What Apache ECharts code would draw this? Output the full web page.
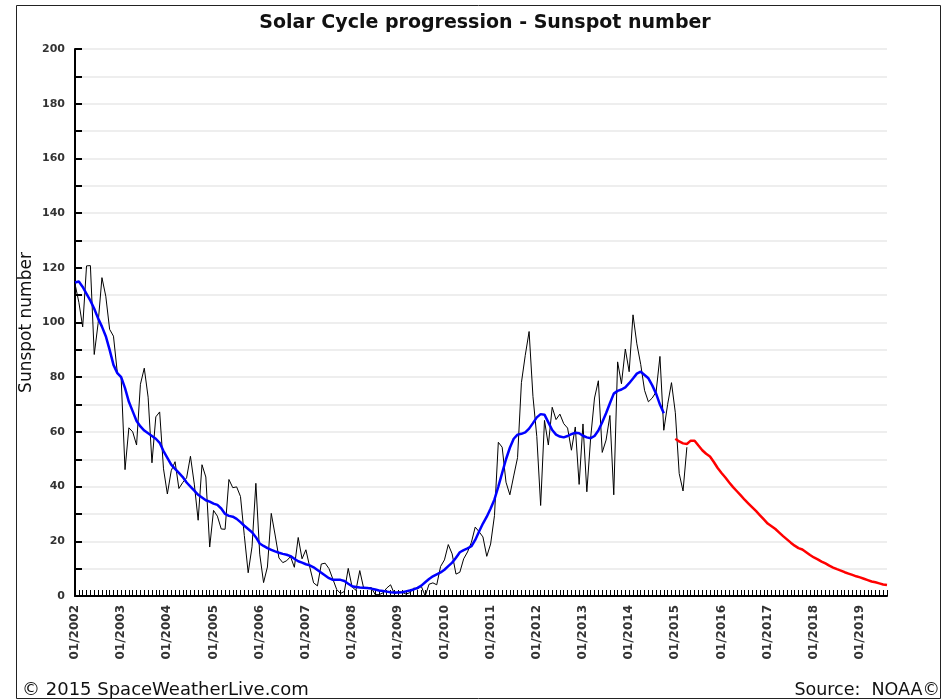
<!DOCTYPE html>
<html>
<head>
<meta charset="utf-8">
<script src="https://cdn.jsdelivr.net/npm/echarts@6/dist/echarts.min.js"></script>
<style>
  html, body { margin: 0; padding: 0; background: #fff; }
  #box { width: 943px; height: 700px; }
</style>
</head>
<body>
<div id="box"></div>
<script>
// months shown on the axis: 01/2002 .. 08/2019
const startYear = 2002;
const monthCount = 212;

// monthly sunspot number, 01/2002 .. 04/2015
const monthlySSN = [
    114.1, 107.4, 98.4, 120.7, 120.8, 88.3, 99.6, 116.4, 109.6, 97.5, 95.0, 81.6,
    79.5, 46.2, 61.5, 60.0, 55.2, 77.4, 83.3, 72.7, 48.7, 65.5, 67.3, 46.5,
    37.3, 45.8, 49.1, 39.3, 41.5, 43.2, 51.1, 40.9, 27.7, 48.0, 43.5, 17.9,
    31.3, 29.2, 24.5, 24.4, 42.6, 39.6, 39.9, 36.4, 22.1, 8.5, 18.0, 41.2,
    15.3, 4.9, 10.6, 30.2, 22.3, 13.9, 12.2, 12.9, 14.4, 10.5, 21.4, 13.6,
    16.9, 10.6, 4.8, 3.7, 11.7, 12.0, 10.0, 6.2, 2.4, 0.9, 1.7, 10.1,
    3.3, 2.1, 9.3, 2.9, 2.9, 3.1, 0.5, 0.5, 1.1, 2.9, 4.1, 0.8,
    1.5, 1.4, 0.7, 1.2, 2.9, 2.6, 3.5, 0.0, 4.3, 4.8, 4.1, 10.8,
    13.2, 18.8, 15.4, 8.0, 8.7, 13.6, 16.1, 19.6, 25.2, 23.5, 21.6, 14.5,
    19.0, 29.4, 56.2, 54.4, 41.6, 37.0, 43.9, 50.6, 78.0, 88.0, 96.7, 73.0,
    58.3, 33.1, 64.2, 55.2, 69.0, 64.5, 66.5, 63.0, 61.4, 53.3, 61.8, 40.8,
    62.9, 38.1, 57.9, 72.4, 78.7, 52.5, 57.0, 66.0, 37.0, 85.6, 77.6, 90.3,
    82.0, 102.8, 92.2, 84.7, 75.2, 71.0, 72.4, 74.6, 87.6, 60.6, 70.1, 78.0,
    67.0, 44.8, 38.4, 54.4
];

// smoothed sunspot number, 01/2002 .. 10/2014
const smoothedSSN = [
    114.6, 115.0, 113.0, 110.5, 108.0, 105.0, 101.5, 98.5, 95.0, 90.0, 84.5, 81.5,
    80.0, 76.0, 71.0, 67.5, 64.0, 62.0, 60.5, 59.5, 58.5, 57.5, 56.0, 53.0,
    50.5, 48.0, 46.5, 45.0, 43.5, 41.5, 40.0, 38.5, 37.0, 36.0, 35.0, 34.5,
    33.8, 33.3, 32.0, 30.0, 29.3, 29.0, 28.2, 27.0, 25.7, 24.5, 23.3, 21.5,
    19.2, 18.3, 17.5, 16.9, 16.3, 15.8, 15.4, 15.1, 14.6, 13.6, 12.7, 12.2,
    11.6, 11.2, 10.5, 9.5, 8.5, 7.5, 6.5, 5.9, 5.9, 5.9, 5.5, 4.5,
    3.6, 3.3, 3.1, 3.0, 2.9, 2.7, 2.4, 2.0, 1.8, 1.6, 1.4, 1.3,
    1.3, 1.4, 1.7, 2.0, 2.4, 3.0, 3.8, 5.0, 6.2, 7.2, 7.9, 8.6,
    9.6, 10.9, 12.2, 14.0, 16.0, 16.8, 17.4, 18.2, 20.5, 23.6, 26.5, 29.0,
    32.0, 35.3, 40.0, 45.0, 50.0, 54.2, 57.5, 59.0, 59.3, 59.8, 61.2, 63.2,
    65.3, 66.5, 66.3, 63.5, 60.7, 59.0, 58.3, 58.0, 58.5, 59.2, 59.7, 59.5,
    58.6, 58.0, 57.7, 58.5, 60.5, 63.5, 66.8, 70.5, 74.0, 75.0, 75.5, 76.3,
    77.8, 79.5, 81.3, 82.0, 80.8, 79.6, 77.0, 74.0, 70.0, 66.8
];

// predicted smoothed number, 01/2015 .. 08/2019
const predictStart = 156;
const predictedSSN = [
    57.5, 56.5, 55.8, 55.6, 56.8, 56.8, 55.0, 53.3, 52.0, 51.0, 49.0, 46.8,
    45.0, 43.3, 41.5, 39.8, 38.3, 36.8, 35.2, 33.8, 32.4, 31.0, 29.5, 28.0,
    26.5, 25.5, 24.5, 23.2, 21.9, 20.7, 19.5, 18.4, 17.5, 17.0, 16.0, 15.0,
    14.1, 13.4, 12.6, 11.9, 11.1, 10.4, 9.8, 9.3, 8.7, 8.2, 7.7, 7.2,
    6.8, 6.3, 5.8, 5.3, 5.0, 4.6, 4.2, 4.0
];

const sFont = '"DejaVu Sans", sans-serif';

const aMonths = [];
for (let i = 0; i < monthCount; i++) {
    const y = startYear + Math.floor(i / 12);
    const m = String(i % 12 + 1).padStart(2, '0');
    aMonths.push(`${m}/${y}`);
}

function padTo(arr, offset) {
    const out = new Array(monthCount).fill('-');
    arr.forEach((v, i) => { out[offset + i] = v; });
    return out;
}

const myChart = echarts.init(document.getElementById('box'), null, { renderer: 'canvas' });

const option = {
    animation: false,
    backgroundColor: '#fff',
    title: {
        text: 'Solar Cycle progression - Sunspot number',
        left: 480,
        textAlign: 'center',
        top: 9,
        textStyle: { fontFamily: sFont, fontSize: 19, fontWeight: 'bold', color: '#111' },
    },
    grid: { left: 75, right: 56, top: 49, bottom: 104, containLabel: false },
    xAxis: {
        type: 'category',
        data: aMonths,
        boundaryGap: false,
        axisLine: { lineStyle: { color: '#000', width: 2 } },
        axisTick: { inside: true, length: 6, interval: 0, lineStyle: { color: '#000', width: 1 } },
        axisLabel: {
            interval: (idx, val) => val.startsWith('01/'),
            rotate: 90,
            margin: 9,
            fontFamily: sFont,
            fontSize: 12,
            fontWeight: 'bold',
            color: '#333',
        },
        splitLine: { show: false },
    },
    yAxis: {
        type: 'value',
        min: 0,
        max: 200,
        interval: 10,
        name: 'Sunspot number',
        nameLocation: 'middle',
        nameGap: 40,
        nameMoveOverlap: false,
        nameTextStyle: { fontFamily: sFont, fontSize: 17, color: '#111' },
        axisLine: { show: true, lineStyle: { color: '#000', width: 2 } },
        axisTick: { show: true, inside: true, length: 7, lineStyle: { color: '#000', width: 2 } },
        axisLabel: {
            formatter: v => (v % 20 === 0 ? String(v) : ''),
            margin: 10,
            fontFamily: sFont,
            fontSize: 11,
            fontWeight: 'bold',
            color: '#333',
        },
        splitLine: { show: true, lineStyle: { color: '#e8e8e8', width: 1.5 } },
    },
    series: [
        {
            name: 'monthly',
            type: 'line',
            data: padTo(monthlySSN, 0),
            showSymbol: false,
            connectNulls: false,
            lineStyle: { color: '#000', width: 1 },
            z: 2,
        },
        {
            name: 'smoothed',
            type: 'line',
            data: padTo(smoothedSSN, 0),
            showSymbol: false,
            lineStyle: { color: '#0000ff', width: 2.5 },
            z: 3,
        },
        {
            name: 'predicted',
            type: 'line',
            data: padTo(predictedSSN, predictStart),
            showSymbol: false,
            lineStyle: { color: '#ff0000', width: 2.5 },
            z: 3,
        },
    ],
    graphic: [
        {
            type: 'rect',
            shape: { x: 16.5, y: 5.5, width: 924, height: 693 },
            style: { fill: 'none', stroke: '#222', lineWidth: 1 },
            silent: true,
        },
        {
            type: 'text',
            left: 22,
            top: 681,
            style: { text: '© 2015 SpaceWeatherLive.com', font: '18px ' + sFont, fill: '#111' },
        },
        {
            type: 'text',
            right: 3,
            top: 681,
            style: { text: 'Source:  NOAA©', font: '17.5px ' + sFont, fill: '#111' },
        },
    ],
};

myChart.setOption(option);
</script>
</body>
</html>
